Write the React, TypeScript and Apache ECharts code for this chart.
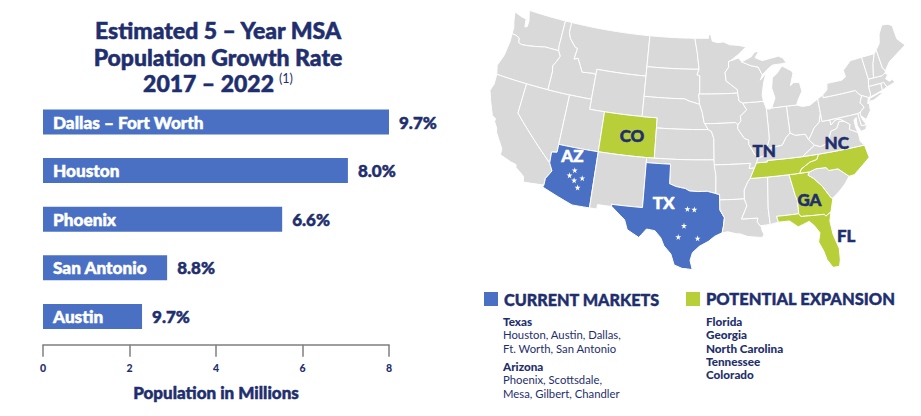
import React, { useEffect, useRef } from "react";
import * as echarts from "echarts";

const NAVY = "#1f2f6e";
const BLUE = "#4a70c4";
const GREEN = "#b9cf3a";
const GRAY = "#d9d9d9";
const FONT = "Lato, 'Noto Sans', sans-serif";

const metros = ["Dallas – Fort Worth", "Houston", "Phoenix", "San Antonio", "Austin"];
const populations = [8.0, 7.05, 5.53, 2.87, 2.29];
const growthRates = ["9.7%", "8.0%", "6.6%", "8.8%", "9.7%"];
const tickStep = 2;
const axisMax = 8;

const currentStates = ["AZ", "TX"];
const expansionStates = ["CO", "TN", "NC", "GA", "FL"];

type P = number[];
const stateRings: Record<string, P[][]> = {
  WA: [[[-124.7,48.4],[-123.5,48.15],[-122.8,48.1],[-122.6,47.3],[-122.3,47.4],[-122.3,48.0],[-122.75,49],[-117.03,49],[-117.04,46.43],[-116.92,45.99],[-118.98,46],[-119.3,45.93],[-121.2,45.65],[-122.3,45.55],[-122.75,45.65],[-122.9,46.1],[-123.5,46.25],[-124.05,46.27],[-124.1,46.9],[-124.4,47.5]]],
  OR: [[[-124.05,46.27],[-123.5,46.25],[-122.9,46.1],[-122.75,45.65],[-122.3,45.55],[-121.2,45.65],[-119.3,45.93],[-118.98,46],[-116.92,45.99],[-116.5,45.5],[-116.85,44.9],[-117.2,44.4],[-117.03,43.8],[-117.03,42],[-124.2,42],[-124.55,42.85],[-124.1,44],[-123.95,45.5]]],
  CA: [[[-124.2,42],[-120,42],[-120,39],[-114.63,35],[-114.15,34.27],[-114.72,33.4],[-114.72,32.72],[-117.12,32.53],[-117.3,33.1],[-118.4,33.75],[-118.5,34.03],[-119.2,34.15],[-120.6,34.55],[-120.65,35.15],[-121.9,36.6],[-122,36.95],[-122.5,37.5],[-122.5,37.8],[-123,38],[-123.8,39.3],[-124.35,40.3],[-124.1,41]]],
  NV: [[[-120,42],[-114.04,42],[-114.04,36.2],[-114.7,36.1],[-114.63,35],[-120,39]]],
  ID: [[[-117.03,49],[-116.05,49],[-116.05,48],[-115.7,47.45],[-114.7,46.7],[-114.35,46.65],[-114.5,45.55],[-113.95,45.7],[-113.45,45.05],[-113,44.45],[-111.5,44.55],[-111.05,44.48],[-111.05,42],[-117.03,42],[-117.03,43.8],[-117.2,44.4],[-116.85,44.9],[-116.5,45.5],[-116.92,45.99],[-117.04,46.43]]],
  MT: [[[-116.05,49],[-104.05,49],[-104.05,45],[-111.05,45],[-111.05,44.48],[-111.5,44.55],[-113,44.45],[-113.45,45.05],[-113.95,45.7],[-114.5,45.55],[-114.35,46.65],[-114.7,46.7],[-115.7,47.45],[-116.05,48]]],
  WY: [[[-111.05,45],[-104.05,45],[-104.05,41],[-111.05,41]]],
  UT: [[[-114.04,42],[-111.05,42],[-111.05,41],[-109.05,41],[-109.05,37],[-114.04,37]]],
  CO: [[[-109.05,41],[-102.05,41],[-102.05,37],[-109.05,37]]],
  AZ: [[[-114.04,37],[-109.05,37],[-109.05,31.33],[-111.07,31.33],[-114.81,32.5],[-114.72,32.72],[-114.72,33.4],[-114.15,34.27],[-114.63,35],[-114.7,36.1],[-114.04,36.2]]],
  NM: [[[-109.05,37],[-103,37],[-103,32],[-106.62,32],[-106.53,31.78],[-108.2,31.78],[-108.2,31.33],[-109.05,31.33]]],
  ND: [[[-104.05,49],[-97.23,49],[-96.85,47.6],[-96.56,45.94],[-104.05,45.94]]],
  SD: [[[-104.05,45.94],[-96.56,45.94],[-96.85,45.4],[-96.45,45.3],[-96.45,43.5],[-96.6,43.5],[-96.45,42.49],[-97.9,42.8],[-98.5,43],[-104.05,43]]],
  NE: [[[-104.05,43],[-98.5,43],[-97.9,42.8],[-96.45,42.49],[-96.1,41.7],[-95.85,40.7],[-95.31,40],[-102.05,40],[-102.05,41],[-104.05,41]]],
  KS: [[[-102.05,40],[-95.31,40],[-94.9,39.8],[-94.61,39.1],[-94.62,37],[-102.05,37]]],
  OK: [[[-103,37],[-94.62,37],[-94.43,35.4],[-94.48,33.64],[-95.5,33.88],[-96.6,33.85],[-97.6,33.9],[-98.1,34.13],[-99.2,34.3],[-100,34.56],[-100,36.5],[-103,36.5]]],
  TX: [[[-103,36.5],[-100,36.5],[-100,34.56],[-99.2,34.3],[-98.1,34.13],[-97.6,33.9],[-96.6,33.85],[-95.5,33.88],[-94.48,33.64],[-94.04,33.55],[-94.04,33],[-94.04,31.99],[-93.55,31.2],[-93.7,30.3],[-93.85,29.7],[-94.7,29.35],[-95.4,28.85],[-96.4,28.35],[-97.15,27.7],[-97.4,26.9],[-97.15,25.96],[-97.65,26.03],[-98.25,26.07],[-99.1,26.4],[-99.5,27.5],[-100.3,28.3],[-100.7,29.1],[-101.4,29.77],[-102.35,29.88],[-102.85,29.3],[-103.15,28.98],[-104.5,29.65],[-104.9,30.6],[-106,31.4],[-106.53,31.78],[-106.62,32],[-103,32]]],
  MN: [[[-97.23,49],[-95.15,49],[-95.15,49.38],[-94.8,49.3],[-94.6,48.7],[-93.8,48.55],[-92.9,48.6],[-92,48.3],[-90.8,48.2],[-89.6,48],[-90.8,47.3],[-92.05,46.7],[-92.3,46.65],[-92.3,46.1],[-92.85,45.6],[-92.75,44.75],[-91.25,43.85],[-91.22,43.5],[-96.45,43.5],[-96.45,45.3],[-96.85,45.4],[-96.56,45.94],[-96.85,47.6]]],
  IA: [[[-96.6,43.5],[-91.22,43.5],[-91.1,42.7],[-90.65,42.5],[-90.15,41.8],[-91.05,41.2],[-91,40.75],[-91.42,40.38],[-91.73,40.61],[-95.77,40.58],[-95.85,40.7],[-96.1,41.7],[-96.45,42.49]]],
  MO: [[[-95.77,40.58],[-91.73,40.61],[-91.42,40.38],[-91.5,40],[-90.7,39],[-90.15,38.8],[-90.2,38.4],[-89.5,37.3],[-89.15,37],[-89.4,36.5],[-89.7,36],[-90.37,36],[-90.15,36.5],[-94.62,36.5],[-94.62,37],[-94.61,39.1],[-94.9,39.8],[-95.31,40]]],
  AR: [[[-94.62,36.5],[-90.15,36.5],[-90.37,36],[-89.7,36],[-90.3,35],[-90.6,34.7],[-91.1,33.9],[-91.15,33],[-94.04,33],[-94.04,33.55],[-94.48,33.64],[-94.43,35.4]]],
  LA: [[[-94.04,33],[-91.15,33],[-90.9,32.3],[-91.6,31],[-89.73,31],[-89.85,30.65],[-89.55,30.2],[-89.4,30.05],[-89.4,29.8],[-89.2,29.3],[-89.4,29],[-90.2,29.1],[-91,29.2],[-91.8,29.5],[-92.3,29.55],[-93.2,29.77],[-93.85,29.7],[-93.7,30.3],[-93.55,31.2],[-94.04,31.99]]],
  MS: [[[-90.3,35],[-88.2,35],[-88.47,31.9],[-88.4,30.25],[-89.55,30.2],[-89.85,30.65],[-89.73,31],[-91.6,31],[-90.9,32.3],[-91.15,33],[-91.1,33.9],[-90.6,34.7]]],
  AL: [[[-88.2,35],[-85.6,35],[-85.18,32.87],[-85,32.3],[-85.05,31],[-87.6,31],[-87.45,30.4],[-88.4,30.25],[-88.47,31.9]]],
  GA: [[[-85.6,35],[-83.1,35],[-83.35,34.7],[-82.75,34.3],[-81.9,33.4],[-81.1,32.1],[-80.9,32.03],[-81.4,30.7],[-82.05,30.36],[-82.2,30.57],[-84.86,30.7],[-85.05,31],[-85,32.3],[-85.18,32.87]]],
  FL: [[[-87.6,31],[-85.05,31],[-84.86,30.7],[-82.2,30.57],[-82.05,30.36],[-81.4,30.7],[-81.7,29.8],[-81.6,28.4],[-81.2,26.9],[-81.3,25.75],[-81.5,25.1],[-82.2,25.1],[-82.7,26],[-82.9,26.9],[-83.3,27.9],[-83,28.8],[-83.5,29.6],[-84,30.1],[-85.3,29.7],[-86.2,30.4],[-87.45,30.4]]],
  SC: [[[-83.1,35],[-82.3,35.2],[-81.05,35.15],[-80.8,34.82],[-79.67,34.8],[-78.55,33.86],[-79.2,33.2],[-80,32.6],[-80.9,32.03],[-81.1,32.1],[-81.9,33.4],[-82.75,34.3],[-83.35,34.7]]],
  NC: [[[-84.32,35],[-83.1,35],[-82.3,35.2],[-81.05,35.15],[-80.8,34.82],[-79.67,34.8],[-78.55,33.86],[-77.9,33.9],[-76.6,34.7],[-75.7,35.25],[-75.9,36.55],[-81.68,36.59],[-82,36.1],[-82.9,35.95],[-84.05,35.4]]],
  TN: [[[-90.3,35],[-88.2,35],[-85.6,35],[-84.32,35],[-84.05,35.4],[-82.9,35.95],[-82,36.1],[-81.68,36.59],[-83.68,36.6],[-88.07,36.65],[-88.05,36.5],[-89.4,36.5],[-89.7,36]]],
  KY: [[[-89.4,36.5],[-88.05,36.5],[-88.07,36.65],[-83.68,36.6],[-81.97,37.54],[-82.6,38.17],[-82.9,38.75],[-84.2,38.8],[-84.82,39.1],[-85.4,38.7],[-86,38],[-87,37.9],[-88,37.8],[-88.5,37.1],[-89.15,37]]],
  VA: [[[-83.68,36.6],[-81.68,36.59],[-75.9,36.55],[-76.3,37],[-76.3,37.9],[-77.3,38.4],[-77.05,38.85],[-77.7,39.3],[-78.35,39.4],[-78.85,38.75],[-79.65,38.6],[-80.3,37.5],[-81.3,37.3],[-81.97,37.54]]],
  WV: [[[-81.97,37.54],[-81.3,37.3],[-80.3,37.5],[-79.65,38.6],[-78.85,38.75],[-78.35,39.4],[-77.7,39.3],[-78.2,39.6],[-78.8,39.6],[-79.48,39.2],[-79.48,39.72],[-80.52,39.72],[-80.52,40.6],[-80.9,39.7],[-81.7,39.2],[-82.2,38.6],[-82.6,38.17]]],
  OH: [[[-84.82,41.76],[-83.45,41.73],[-82.7,41.5],[-81.7,41.5],[-80.52,41.98],[-80.52,40.6],[-80.9,39.7],[-81.7,39.2],[-82.2,38.6],[-82.6,38.17],[-82.9,38.75],[-84.2,38.8],[-84.82,39.1]]],
  IN: [[[-87.52,41.72],[-87,41.68],[-86.8,41.76],[-84.82,41.76],[-84.82,39.1],[-85.4,38.7],[-86,38],[-87,37.9],[-88,37.8],[-87.55,38.7],[-87.52,39.35]]],
  IL: [[[-90.65,42.5],[-87.8,42.5],[-87.52,41.72],[-87.52,39.35],[-87.55,38.7],[-88,37.8],[-88.5,37.1],[-89.15,37],[-89.5,37.3],[-90.2,38.4],[-90.15,38.8],[-90.7,39],[-91.5,40],[-91.42,40.38],[-91,40.75],[-91.05,41.2],[-90.15,41.8]]],
  WI: [[[-92.05,46.7],[-90.8,46.95],[-90.4,46.55],[-89.1,46.1],[-88.1,45.9],[-87.6,45.1],[-87.95,44.6],[-87.05,45.25],[-87.55,44.3],[-87.9,43.1],[-87.8,42.5],[-90.65,42.5],[-91.1,42.7],[-91.22,43.5],[-91.25,43.85],[-92.75,44.75],[-92.85,45.6],[-92.3,46.1],[-92.3,46.65]]],
  MI: [
    [[-86.8,41.76],[-84.82,41.76],[-83.45,41.73],[-83.1,42.25],[-82.45,43],[-82.6,43.9],[-83.4,43.95],[-83.9,43.7],[-83.3,44.85],[-83.4,45.1],[-84.7,45.75],[-85.5,45.1],[-86.25,44.7],[-86.5,43.7],[-86.2,42.7]],
    [[-90.4,46.55],[-89,46.95],[-88.4,47.4],[-87.8,47.45],[-88.4,46.85],[-87.4,46.5],[-86,46.65],[-85,46.75],[-84.4,46.5],[-84,46],[-84.7,45.97],[-86,45.95],[-86.6,45.7],[-87.6,45.1],[-88.1,45.9],[-89.1,46.1]],
  ],
  PA: [[[-80.52,41.98],[-79.76,42.27],[-79.76,42],[-75.35,42],[-75.05,41.6],[-74.7,41.36],[-75.15,40.7],[-74.75,40.2],[-75.42,39.8],[-75.79,39.72],[-80.52,39.72],[-80.52,40.6]]],
  NY: [
    [[-79.76,42.27],[-79.06,42.7],[-78.9,43.3],[-76.8,43.3],[-76.2,43.55],[-76.3,44.2],[-75,44.97],[-73.35,45],[-73.3,43.65],[-73.25,42.75],[-73.5,42.05],[-73.5,41.3],[-73.65,41],[-73.9,41],[-74.7,41.36],[-75.05,41.6],[-75.35,42],[-79.76,42]],
    [[-74,40.6],[-73.7,40.9],[-72.3,41.15],[-71.9,41.05],[-73.3,40.62]],
  ],
  NJ: [[[-74.7,41.36],[-73.9,41],[-74.2,40.45],[-74,40.4],[-74.1,39.7],[-74.9,38.95],[-75.5,39.5],[-75.42,39.8],[-74.75,40.2],[-75.15,40.7]]],
  DE: [[[-75.42,39.8],[-75.79,39.72],[-75.7,38.46],[-75.05,38.46],[-75.4,39.1],[-75.5,39.5]]],
  MD: [[[-79.48,39.72],[-75.79,39.72],[-75.7,38.46],[-75.05,38.46],[-75.25,38.03],[-75.9,37.95],[-76.2,38.6],[-76.1,39.4],[-76.45,39.2],[-76.45,38.4],[-76.3,37.9],[-77.3,38.4],[-77.05,38.85],[-77.7,39.3],[-78.2,39.6],[-78.8,39.6],[-79.48,39.2]]],
  CT: [[[-73.5,42.05],[-71.8,42.02],[-71.85,41.32],[-73.65,41],[-73.5,41.3]]],
  RI: [[[-71.8,42.02],[-71.38,42.02],[-71.15,41.5],[-71.85,41.32]]],
  MA: [[[-73.5,42.05],[-73.25,42.75],[-72.46,42.73],[-71.3,42.7],[-70.85,42.87],[-70.6,42.6],[-71,42.3],[-70.6,41.95],[-70.2,42.07],[-69.95,41.7],[-70.6,41.6],[-71.15,41.5],[-71.38,42.02],[-71.8,42.02]]],
  VT: [[[-73.35,45],[-71.5,45],[-72.05,44.1],[-72.45,43],[-72.46,42.73],[-73.25,42.75],[-73.3,43.65]]],
  NH: [[[-71.5,45],[-71.08,45.3],[-70.98,43.4],[-70.7,43.07],[-70.85,42.87],[-71.3,42.7],[-72.46,42.73],[-72.45,43],[-72.05,44.1]]],
  ME: [[[-71.08,45.3],[-70.4,45.8],[-70,46.7],[-69.22,47.46],[-68.3,47.35],[-67.8,47.07],[-67.8,45.7],[-67,44.85],[-68.5,44.3],[-69.8,43.8],[-70.7,43.07],[-70.98,43.4]]],
};

const azStars: P[] = [[-111.5, 34.8], [-112.0, 34.2], [-111.35, 33.8], [-110.45, 34.15], [-110.8, 33.15]];
const txStars: P[] = [[-97.8, 32.1], [-97.0, 32.05], [-98.15, 30.4], [-98.75, 29.25], [-96.6, 29.15]];
const lightLabels: (string | number)[][] = [["AZ", -112.1, 36.15], ["TX", -100.6, 32.7]];
const darkLabels: (string | number)[][] = [
  ["CO", -105.1, 39], ["TN", -88.3, 37.7], ["NC", -79.2, 37.35], ["GA", -83.6, 32.3], ["FL", -80.2, 28.1],
];

const currentTitle = "CURRENT MARKETS";
const expansionTitle = "POTENTIAL EXPANSION";
const currentList = [
  ["Texas", "b", 321], ["Houston, Austin, Dallas,", "n", 334], ["Ft. Worth, San Antonio", "n", 348],
  ["Arizona", "b", 366], ["Phoenix, Scottsdale,", "n", 379], ["Mesa, Gilbert, Chandler", "n", 393],
];
const expansionList = [
  ["Florida", "b", 321], ["Georgia", "b", 334], ["North Carolina", "b", 348], ["Tennessee", "b", 361], ["Colorado", "b", 374],
];

const rad = Math.PI / 180;
const p1 = 37 * rad, p2 = 50 * rad, lat0 = 37.5 * rad, lon0 = -96 * rad;
const n = (Math.sin(p1) + Math.sin(p2)) / 2;
const C = Math.cos(p1) ** 2 + 2 * n * Math.sin(p1);
const rho0 = Math.sqrt(C - 2 * n * Math.sin(lat0)) / n;
const albers = {
  project: (pt: number[]) => {
    const rho = Math.sqrt(C - 2 * n * Math.sin(pt[1] * rad)) / n;
    const th = n * (pt[0] * rad - lon0);
    return [rho * Math.sin(th), -(rho0 - rho * Math.cos(th))];
  },
  unproject: (pt: number[]) => {
    const x = pt[0], y = rho0 + pt[1];
    const rho = Math.sqrt(x * x + y * y);
    const th = Math.atan2(x, y);
    return [(th / n + lon0) / rad, Math.asin((C - rho * rho * n * n) / (2 * n)) / rad];
  },
};

function densify(ring: P[]): P[] {
  const out: P[] = [];
  ring.forEach((a, i) => {
    const b = ring[(i + 1) % ring.length];
    const steps = Math.max(1, Math.ceil(Math.abs(b[0] - a[0])));
    for (let s = 0; s < steps; s++) {
      out.push([a[0] + ((b[0] - a[0]) * s) / steps, a[1] + ((b[1] - a[1]) * s) / steps]);
    }
  });
  out.push(out[0]);
  return out;
}

const usGeo = {
  type: "FeatureCollection",
  features: Object.keys(stateRings).map((name) => ({
    type: "Feature",
    properties: { name },
    geometry: { type: "MultiPolygon", coordinates: stateRings[name].map((r) => [densify(r)]) },
  })),
};

const listGraphics = (list: any[], x: number) =>
  list.map(([text, kind, y]) => ({
    type: "text",
    x,
    y,
    style: {
      text,
      fill: NAVY,
      font: `${kind === "b" ? 900 : 400} ${kind === "b" ? 11.7 : 11.3}px ${FONT}`,
      textAlign: "left",
      textVerticalAlign: "middle",
    },
  }));

const heavy = (color: string) => ({ textBorderColor: color, textBorderWidth: 0.5 });

export default function App() {
  const ref = useRef<HTMLDivElement>(null);
  useEffect(() => {
    const chart = echarts.init(ref.current!, undefined, { renderer: "svg" });
    echarts.registerMap("usStates", usGeo as any);
    const mapLabel = (color: string) => ({
      show: true,
      position: "inside",
      formatter: (p: any) => p.data[2],
      color,
      opacity: 1,
      fontFamily: FONT,
      fontWeight: 900,
      fontSize: 17,
      ...heavy(color),
    });
    chart.setOption({
      animation: false,
      title: {
        left: 213,
        top: 12,
        textAlign: "center",
        text: "{t|Estimated 5 – Year MSA}\n{t|Population Growth Rate}\n{t|2017 – 2022} {s|(1)}",
        textStyle: {
          rich: {
            t: { fontFamily: FONT, fontWeight: 900, fontSize: 23, color: NAVY, lineHeight: 26.5, ...heavy(NAVY) },
            s: { fontFamily: FONT, fontWeight: 400, fontSize: 12.5, color: NAVY, lineHeight: 26.5, padding: [0, 0, 10, 0] },
          },
        },
      },
      grid: { left: 43, width: 346, top: 97.7, height: 243, containLabel: false },
      xAxis: {
        type: "value",
        position: "bottom",
        offset: 4,
        min: 0,
        max: axisMax,
        interval: tickStep,
        splitLine: { show: false },
        axisLine: { show: true, lineStyle: { color: "#7f7f7f", width: 1.5 } },
        axisTick: { show: true, length: 12, lineStyle: { color: "#7f7f7f", width: 1.5 } },
        axisLabel: { color: NAVY, fontFamily: FONT, fontWeight: 900, fontSize: 10.5, margin: 18 },
        name: "Population in Millions",
        nameLocation: "middle",
        nameGap: 39,
        nameTextStyle: { color: NAVY, fontFamily: FONT, fontWeight: 900, fontSize: 17, ...heavy(NAVY) },
      },
      yAxis: {
        type: "category",
        inverse: true,
        data: metros,
        z: 5,
        axisLine: { show: false },
        axisTick: { show: false },
        axisLabel: { inside: true, margin: 10, color: "#fff", fontFamily: FONT, fontWeight: 900, fontSize: 17.2, ...heavy("#fff") },
      },
      geo: {
        map: "usStates",
        projection: albers,
        roam: false,
        silent: true,
        layoutCenter: [697.5, 140],
        layoutSize: 415,
        itemStyle: { areaColor: GRAY, borderColor: "#fff", borderWidth: 1 },
        label: { show: false },
        emphasis: { disabled: true },
        regions: [
          ...currentStates.map((name) => ({ name, itemStyle: { areaColor: BLUE } })),
          ...expansionStates.map((name) => ({ name, itemStyle: { areaColor: GREEN } })),
        ],
      },
      series: [
        {
          type: "bar",
          data: populations,
          barWidth: 25,
          itemStyle: { color: BLUE },
          silent: true,
          label: {
            show: true,
            position: "right",
            distance: 10,
            formatter: (p: any) => growthRates[p.dataIndex],
            color: NAVY,
            fontFamily: FONT,
            fontWeight: 900,
            fontSize: 17,
            ...heavy(NAVY),
          },
        },
        {
          type: "scatter",
          coordinateSystem: "geo",
          symbol: "path://M50 0 L61 35 L98 35 L68 57 L79 92 L50 71 L21 92 L32 57 L2 35 L39 35 Z",
          symbolSize: 6,
          itemStyle: { color: "#fff", opacity: 1 },
          silent: true,
          z: 4,
          data: [...azStars, ...txStars],
        },
        {
          type: "scatter",
          coordinateSystem: "geo",
          symbolSize: 0,
          itemStyle: { opacity: 1 },
          silent: true,
          z: 5,
          data: lightLabels.map((l) => [l[1], l[2], l[0]]),
          label: mapLabel("#fff"),
        },
        {
          type: "scatter",
          coordinateSystem: "geo",
          symbolSize: 0,
          itemStyle: { opacity: 1 },
          silent: true,
          z: 5,
          data: darkLabels.map((l) => [l[1], l[2], l[0]]),
          label: mapLabel(NAVY),
        },
      ],
      graphic: [
        { type: "rect", shape: { x: 484, y: 292, width: 14, height: 14 }, style: { fill: BLUE } },
        { type: "rect", shape: { x: 686, y: 292, width: 14, height: 14 }, style: { fill: GREEN } },
        { type: "text", x: 504, y: 299, style: { text: currentTitle, fill: NAVY, stroke: NAVY, lineWidth: 0.4, font: `900 16.2px ${FONT}`, textVerticalAlign: "middle" } },
        { type: "text", x: 706, y: 299, style: { text: expansionTitle, fill: NAVY, stroke: NAVY, lineWidth: 0.4, font: `900 16.5px ${FONT}`, textVerticalAlign: "middle" } },
        ...listGraphics(currentList, 503),
        ...listGraphics(expansionList, 706),
      ],
    });
    return () => chart.dispose();
  }, []);
  return (
    <div
      ref={ref}
      style={{ position: "absolute", left: 0, top: 0, width: 921, height: 416, background: "#fff" }}
    />
  );
}
